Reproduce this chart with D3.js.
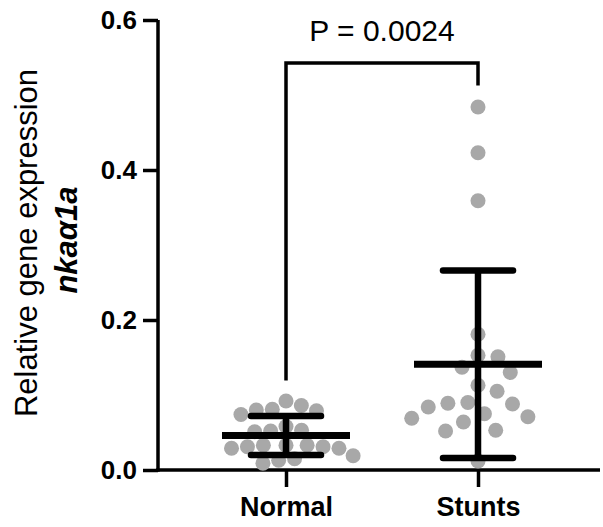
<!DOCTYPE html>
<html>
<head>
<meta charset="utf-8">
<script src="https://cdn.jsdelivr.net/npm/d3@7"></script>
<style>
  body { margin: 0; background: #fff; }
  svg { display: block; font-family: "Liberation Sans", Arial, sans-serif; }
</style>
</head>
<body>
<script>
// groups and values
var groups = ["Normal", "Stunts"];
var normal = [0.092, 0.086, 0.081, 0.080, 0.079, 0.074, 0.058, 0.053, 0.052, 0.051,
              0.033, 0.033, 0.033, 0.031, 0.031, 0.029, 0.029, 0.019, 0.015, 0.013, 0.009];
var stunts = [0.484, 0.423, 0.359, 0.181, 0.153, 0.151, 0.137, 0.130, 0.113, 0.105,
              0.090, 0.089, 0.088, 0.084, 0.075, 0.071, 0.069, 0.064, 0.053, 0.052, 0.012];
var means = [0.046, 0.141];
var sds = [0.026, 0.125];
var yTicks = [0.0, 0.2, 0.4, 0.6];
var pLabel = "P = 0.0024";

var width = 603,
    height = 527,
    axisX = 158,
    axisEnd = 600,
    r = 7.5,
    dotGaps = [16, 20];

var svg = d3.select("body").append("svg")
    .attr("width", width)
    .attr("height", height);

var y = d3.scaleLinear().domain([0, 0.6]).range([470, 20]);
var x = d3.scalePoint().domain(groups).range([286, 478]);

// y axis
var yAxis = svg.append("g")
    .attr("transform", "translate(" + axisX + ",0)")
    .call(d3.axisLeft(y).tickValues(yTicks).tickFormat(d3.format(".1f"))
      .tickSize(15).tickSizeOuter(0).tickPadding(6));
yAxis.select(".domain").attr("stroke-width", 3.5).attr("d", "M0," + y(0.6) + "V" + (y(0) + 1.75));
yAxis.selectAll(".tick line").attr("stroke-width", 3.5);
yAxis.selectAll(".tick text")
    .attr("font-size", 26).attr("font-weight", "bold").attr("fill", "#000")
    .attr("font-family", "Liberation Sans, Arial, sans-serif");

// x axis
var xAxis = svg.append("g")
    .attr("transform", "translate(0," + y(0) + ")")
    .call(d3.axisBottom(x).tickSize(17).tickSizeOuter(0).tickPadding(10));
xAxis.select(".domain").attr("stroke-width", 3.5).attr("d", "M" + (axisX - 1.75) + ",0H" + axisEnd);
xAxis.selectAll(".tick line").attr("stroke-width", 3.5);
xAxis.selectAll(".tick text")
    .attr("font-size", 27).attr("font-weight", "bold").attr("fill", "#000")
    .attr("font-family", "Liberation Sans, Arial, sans-serif");

// axis title
svg.append("text")
    .attr("transform", "translate(37,243) rotate(-90)")
    .attr("text-anchor", "middle")
    .attr("font-size", 31)
    .text("Relative gene expression");
svg.append("text")
    .attr("transform", "translate(77,240) rotate(-90)")
    .attr("text-anchor", "middle")
    .attr("font-size", 31)
    .attr("font-weight", "bold")
    .attr("font-style", "italic")
    .text("nka\u03b11a");

// beeswarm: each dot goes as close to the centre as it can without overlapping
function swarm(values, gap) {
  var placed = [];
  values.slice().sort(function(a, b) { return b - a; }).forEach(function(v) {
    var py = y(v);
    var near = placed.filter(function(p) { return Math.abs(p.y - py) < gap; });
    var cands = [0];
    near.forEach(function(p) {
      var dx = Math.sqrt(gap * gap - (p.y - py) * (p.y - py));
      cands.push(p.dx + dx, p.dx - dx);
    });
    cands.sort(function(a, b) { return Math.abs(a) - Math.abs(b); });
    var best = cands.find(function(c) {
      return near.every(function(p) {
        return (p.dx - c) * (p.dx - c) + (p.y - py) * (p.y - py) >= gap * gap - 0.01;
      });
    });
    placed.push({ v: v, y: py, dx: best });
  });
  return placed;
}

var series = [normal, stunts];
series.forEach(function(vals, i) {
  var cx = x(groups[i]);
  svg.append("g").selectAll("circle")
    .data(swarm(vals, dotGaps[i]))
    .join("circle")
      .attr("cx", function(d) { return cx + d.dx; })
      .attr("cy", function(d) { return d.y; })
      .attr("r", r)
      .attr("fill", "#a8a8a8");
});

// mean and SD bars
var bars = svg.append("g").attr("stroke", "#000");
groups.forEach(function(g, i) {
  var cx = x(g);
  var lo = means[i] - sds[i], hi = means[i] + sds[i];
  bars.append("line")
    .attr("x1", cx).attr("x2", cx)
    .attr("y1", y(lo)).attr("y2", y(hi))
    .attr("stroke-width", 6.5);
  [lo, hi].forEach(function(v) {
    bars.append("line")
      .attr("x1", cx - 35).attr("x2", cx + 35)
      .attr("y1", y(v)).attr("y2", y(v))
      .attr("stroke-width", 6.5)
      .attr("stroke-linecap", "round");
  });
  bars.append("line")
    .attr("x1", cx - 64).attr("x2", cx + 64)
    .attr("y1", y(means[i])).attr("y2", y(means[i]))
    .attr("stroke-width", 7);
});

// significance bracket
var topY = y(d3.max(stunts)) - 44;
var leftEnd = y(d3.max(normal)) - r - 13;
var rightEnd = y(d3.max(stunts)) - r - 14;
svg.append("path")
    .attr("fill", "none")
    .attr("stroke", "#000")
    .attr("stroke-width", 3.5)
    .attr("d", "M" + x("Normal") + "," + leftEnd + "V" + topY + "H" + x("Stunts") + "V" + rightEnd);
svg.append("text")
    .attr("x", (x("Normal") + x("Stunts")) / 2)
    .attr("y", 41)
    .attr("text-anchor", "middle")
    .attr("font-size", 30)
    .text(pLabel);
</script>
</body>
</html>
